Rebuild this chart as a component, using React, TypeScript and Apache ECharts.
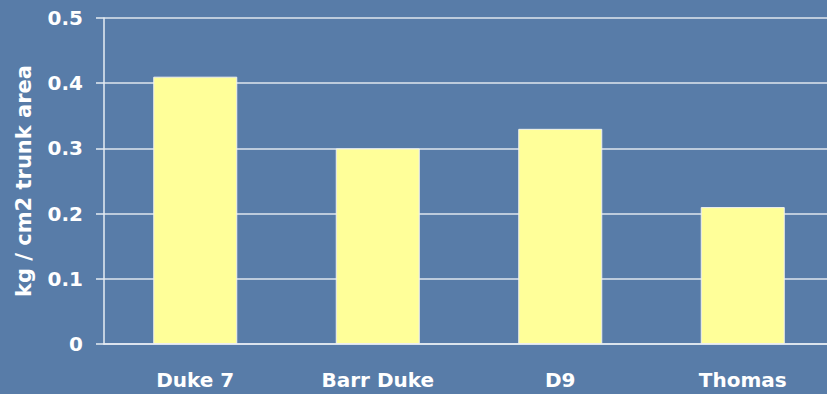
import React, { useEffect, useRef } from "react";
import * as echarts from "echarts";

const categories = ["Duke 7", "Barr Duke", "D9", "Thomas"];
const values = [0.41, 0.3, 0.33, 0.21];
const yTicks = [0, 0.1, 0.2, 0.3, 0.4, 0.5];
const yAxisTitle = "kg / cm2 trunk area";

export default function App() {
  const ref = useRef<HTMLDivElement>(null);
  useEffect(() => {
    if (!ref.current) return;
    const chart = echarts.init(ref.current, undefined, { renderer: "svg" });
    const font = "'DejaVu Sans', Verdana, sans-serif";
    chart.setOption({
      animation: false,
      backgroundColor: "#587ca8",
      grid: {
        left: 104,
        top: 18,
        bottom: 50,
        right: -7,
        containLabel: false,
        outerBoundsMode: "none",
      },
      xAxis: {
        type: "category",
        data: categories,
        axisLine: { lineStyle: { color: "#e6ecf3", width: 1.5 } },
        axisTick: { lineStyle: { color: "#e6ecf3", width: 1.5 }, length: 8 },
        axisLabel: {
          color: "#ffffff",
          fontFamily: font,
          fontWeight: "bold",
          fontSize: 20,
          margin: 26,
        },
      },
      yAxis: {
        type: "value",
        min: yTicks[0],
        max: yTicks[yTicks.length - 1],
        interval: 0.1,
        name: yAxisTitle,
        nameLocation: "middle",
        nameGap: 70,
        nameRotate: 90,
        nameTextStyle: {
          color: "#ffffff",
          fontFamily: font,
          fontWeight: "bold",
          fontSize: 21,
        },
        axisLine: { show: true, lineStyle: { color: "#e6ecf3", width: 1.5 } },
        axisTick: { show: true, length: 8, lineStyle: { color: "#e6ecf3", width: 1.5 } },
        splitLine: { show: true, lineStyle: { color: "#dfe6ee", width: 1.5 } },
        axisLabel: {
          color: "#ffffff",
          fontFamily: font,
          fontWeight: "bold",
          fontSize: 20,
          margin: 21,
          formatter: (v: number) => (v === 0 ? "0" : v.toFixed(1)),
        },
      },
      series: [
        {
          type: "bar",
          data: values,
          barWidth: 84,
          itemStyle: {
            color: "#ffff99",
            borderColor: "#eef0f0",
            borderWidth: 1,
          },
        },
      ],
    });
    return () => chart.dispose();
  }, []);
  return <div ref={ref} style={{ width: 827, height: 394, position: "absolute", left: 0, top: 0 }} />;
}
